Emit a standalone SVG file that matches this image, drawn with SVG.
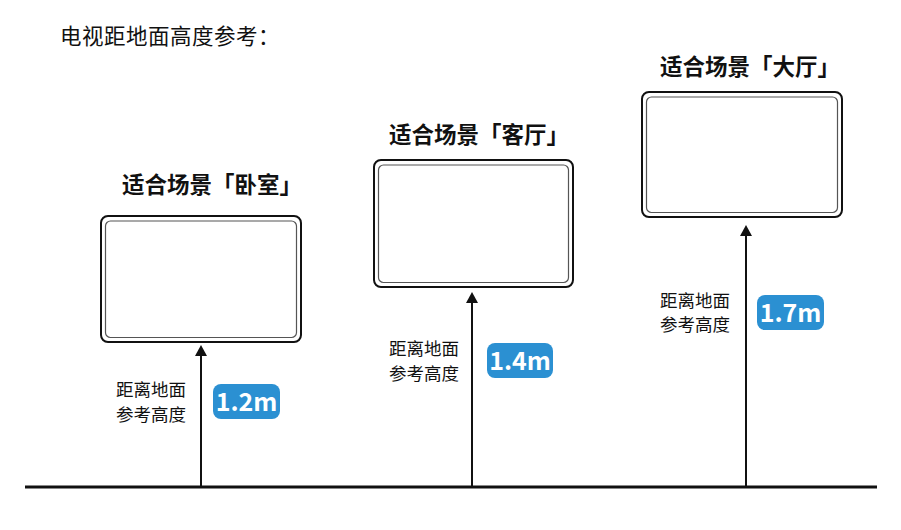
<svg xmlns="http://www.w3.org/2000/svg" width="901" height="530" viewBox="0 0 901 530">
<style>
.cjk{font-family:"Noto Sans CJK SC","Noto Sans",sans-serif;fill:#111}
.title{font-size:22.5px;font-weight:bold;text-anchor:middle}
.lbl{font-size:17.5px}
.outer{fill:#fff;stroke:#111;stroke-width:2}
.inner{fill:none;stroke:#555;stroke-width:1.2}
.badge{fill:#2b90d2}
.bt{font-family:"Noto Sans CJK SC","Noto Sans",sans-serif;font-size:25px;font-weight:bold;fill:#fff;text-anchor:middle}
.conn{stroke:#111;stroke-width:2;fill:none}
</style>
<defs>
<marker id="ah" markerWidth="12" markerHeight="12" refX="5" refY="6" orient="auto" markerUnits="userSpaceOnUse">
<path d="M0,0 L11,6 L0,12 Z" fill="#111"/>
</marker>
</defs>
<rect width="901" height="530" fill="#fff"/>
<text class="cjk" x="60" y="44" font-size="21.5" letter-spacing="0.5">电视距地面高度参考：</text>
<g id="ground"><line x1="25" y1="487" x2="877" y2="487" stroke="#111" stroke-width="3"/></g>
<g id="connectors">
<line class="conn" x1="201" y1="487" x2="201" y2="351" marker-end="url(#ah)"/>
<line class="conn" x1="472" y1="487" x2="472" y2="298" marker-end="url(#ah)"/>
<line class="conn" x1="746" y1="487" x2="746" y2="231" marker-end="url(#ah)"/>
</g>
<g id="tv-bedroom">
<text class="cjk title" x="212" y="193">适合场景「卧室」</text>
<rect class="outer" x="101" y="216" width="200" height="126" rx="7"/>
<rect class="inner" x="105.5" y="221" width="191" height="116.5" rx="5"/>
</g>
<g id="label-bedroom">
<text class="cjk lbl" x="116" y="396">距离地面</text>
<text class="cjk lbl" x="116" y="421">参考高度</text>
<rect class="badge" x="213" y="384" width="67" height="35" rx="8"/>
<text class="bt" x="246.5" y="410.5">1.2m</text>
</g>
<g id="tv-living">
<text class="cjk title" x="479" y="143">适合场景「客厅」</text>
<rect class="outer" x="374" y="160" width="199" height="127" rx="7"/>
<rect class="inner" x="378.5" y="165" width="190" height="117.5" rx="5"/>
</g>
<g id="label-living">
<text class="cjk lbl" x="389" y="355">距离地面</text>
<text class="cjk lbl" x="389" y="380">参考高度</text>
<rect class="badge" x="487" y="343" width="66" height="35" rx="8"/>
<text class="bt" x="520" y="369.5">1.4m</text>
</g>
<g id="tv-hall">
<text class="cjk title" x="750" y="75">适合场景「大厅」</text>
<rect class="outer" x="642" y="92" width="200" height="125" rx="7"/>
<rect class="inner" x="646.5" y="97" width="191" height="115.5" rx="5"/>
</g>
<g id="label-hall">
<text class="cjk lbl" x="660" y="307">距离地面</text>
<text class="cjk lbl" x="660" y="331">参考高度</text>
<rect class="badge" x="757" y="295" width="67" height="35" rx="8"/>
<text class="bt" x="790.5" y="321.5">1.7m</text>
</g>
</svg>
